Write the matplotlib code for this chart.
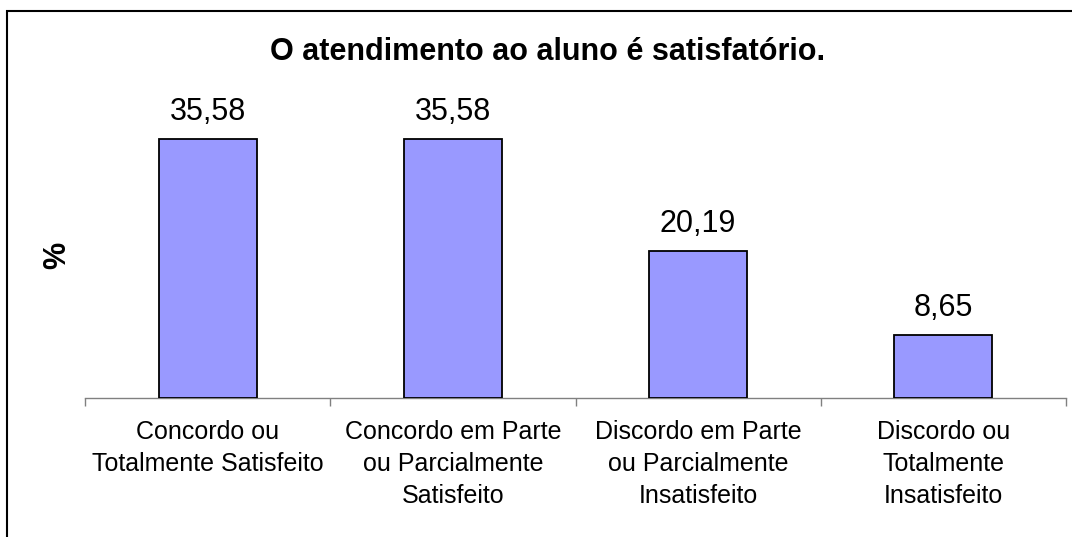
import matplotlib
matplotlib.use('Agg')
import matplotlib.pyplot as plt
from matplotlib.patches import Rectangle

plt.rcParams['font.family'] = ['Liberation Sans', 'DejaVu Sans']

categories = ['Concordo ou\nTotalmente Satisfeito',
              'Concordo em Parte\nou Parcialmente\nSatisfeito',
              'Discordo em Parte\nou Parcialmente\nInsatisfeito',
              'Discordo ou\nTotalmente\nInsatisfeito']
values = [35.58, 35.58, 20.19, 8.65]
value_labels = ['35,58', '35,58', '20,19', '8,65']
title = 'O atendimento ao aluno é satisfatório.'

W, H = 1072, 537
fig = plt.figure(figsize=(W / 100, H / 100), dpi=100)
ax = fig.add_axes([85 / W, 1 - 398 / H, (1066 - 85) / W, (398 - 107) / H])

x = list(range(len(values)))
ax.bar(x, values, width=0.4, color='#9999FF', edgecolor='black', linewidth=1.3, zorder=3)
ax.set_xlim(-0.5, len(values) - 0.5)
ax.set_ylim(0, 40)

for xi, v, lab in zip(x, values, value_labels):
    ax.annotate(lab, (xi, v), xytext=(0, 9), textcoords='offset points',
                ha='center', va='bottom', fontsize=22)

# boundaries ticks, labels at centers
ax.set_xticks([i - 0.5 for i in range(len(values) + 1)])
ax.set_xticklabels([])
ax.tick_params(axis='x', which='major', length=6, width=1, color='#808080', direction='out')
ax.set_xticks(x, minor=True)
ax.set_xticklabels(categories, minor=True, fontsize=18, linespacing=1.42)
ax.tick_params(axis='x', which='minor', length=0, pad=16)

ax.set_yticks([])
for s in ['left', 'right', 'top']:
    ax.spines[s].set_visible(False)
ax.spines['bottom'].set_color('#808080')
ax.spines['bottom'].set_linewidth(1)

fig.text(548 / W, 1 - 52 / H, title, ha='center', va='center', fontsize=22, fontweight='bold')
fig.text(57 / W, 1 - 255 / H, '%', ha='center', va='center', rotation=90,
         fontsize=22, fontweight='bold')

border = Rectangle((7 / W, -0.2), 1.2, 1.2 - 11 / H, transform=fig.transFigure,
                   fill=False, edgecolor='black', linewidth=1.5, clip_on=False)
fig.patches.append(border)

fig.savefig('out.png', dpi=100)
